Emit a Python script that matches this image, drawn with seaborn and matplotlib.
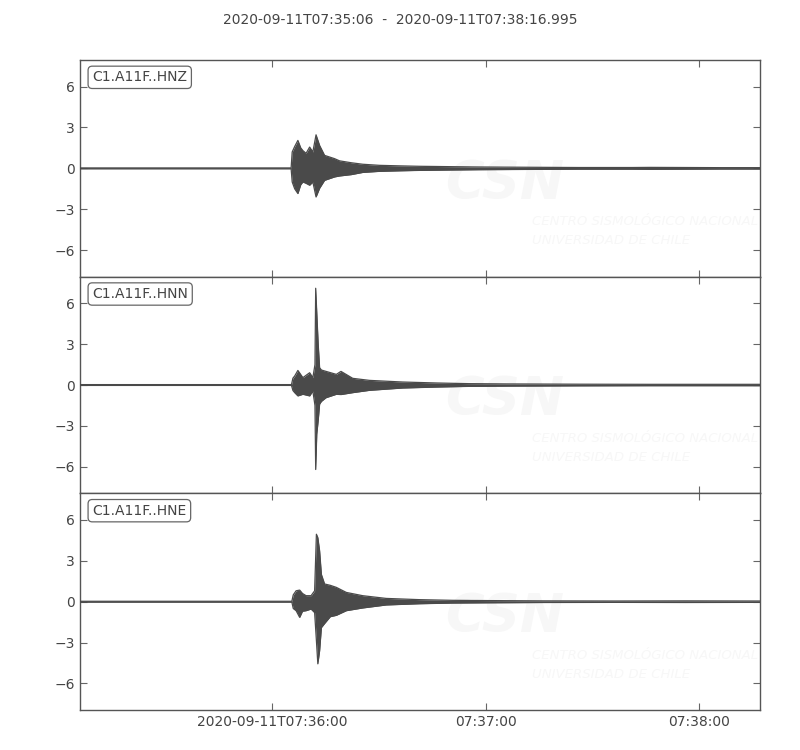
import numpy as np
import pandas as pd
import seaborn as sns
import matplotlib
matplotlib.use("Agg")
import matplotlib.pyplot as plt

# envelope of each trace
# time in seconds after 2020-09-11T07:35:06, amplitude in the plot units
channels = ["C1.A11F..HNZ", "C1.A11F..HNN", "C1.A11F..HNE"]

hnz_t = [0, 59.3, 59.6, 60.3, 61.2, 62.0, 62.6, 63.5, 64.5, 65.4, 66.3, 67.3, 68.7,
         71.5, 72.9, 76.2, 79.4, 84.1, 90, 95.3, 105, 112, 125, 140, 155, 160, 170, 180, 191]
hnz_up = [0.03, 0.03, 1.2, 1.6, 2.05, 1.5, 1.3, 1.1, 1.56, 1.2, 2.46, 1.68, 0.95,
          0.71, 0.55, 0.41, 0.3, 0.22, 0.18, 0.15, 0.12, 0.1, 0.08, 0.06, 0.06, 0.07, 0.06, 0.05, 0.05]
hnz_lo = [-0.03, -0.03, -1.0, -1.5, -1.85, -1.2, -1.0, -1.1, -1.24, -1.0, -2.1, -1.46, -0.88,
          -0.63, -0.56, -0.46, -0.3, -0.22, -0.18, -0.15, -0.12, -0.1, -0.08, -0.06, -0.06, -0.07, -0.06, -0.05, -0.05]

hnn_t = [0, 59.4, 59.8, 60.3, 61.2, 62.6, 64.5, 65.4, 66.0, 66.2, 66.5, 66.9, 67.3,
         67.8, 69.1, 72, 73.3, 76.6, 81.3, 90.6, 100, 109, 120, 140, 160, 191]
hnn_up = [0.03, 0.03, 0.5, 0.66, 1.07, 0.54, 0.9, 0.54, 1.5, 7.1, 5.3, 3.0, 1.27,
          1.1, 1.0, 0.78, 1.0, 0.49, 0.34, 0.22, 0.15, 0.1, 0.08, 0.06, 0.05, 0.05]
hnn_lo = [-0.03, -0.03, -0.4, -0.56, -0.8, -0.68, -0.8, -0.44, -1.5, -6.2, -3.6, -2.6, -1.4,
          -1.2, -0.93, -0.68, -0.7, -0.56, -0.39, -0.22, -0.15, -0.1, -0.08, -0.06, -0.05, -0.05]

hne_t = [0, 59.5, 59.9, 60.7, 61.7, 62.5, 63.5, 64.9, 65.9, 66.4, 66.8, 67.3, 67.8,
         68.7, 70.3, 72, 74.8, 79.4, 86, 95.3, 104.6, 115, 130, 150, 170, 191]
hne_up = [0.03, 0.03, 0.5, 0.8, 0.85, 0.6, 0.44, 0.44, 0.8, 4.95, 4.7, 3.73, 2.0,
          1.3, 1.2, 1.05, 0.68, 0.44, 0.24, 0.15, 0.1, 0.08, 0.06, 0.05, 0.06, 0.05]
hne_lo = [-0.03, -0.03, -0.5, -0.66, -1.15, -0.7, -0.66, -0.54, -0.8, -2.85, -4.56, -3.6, -1.9,
          -1.6, -1.1, -1.0, -0.66, -0.46, -0.24, -0.15, -0.1, -0.08, -0.06, -0.05, -0.06, -0.05]

tick_pos = [54, 114, 174]
tick_labels = ["2020-09-11T07:36:00", "07:37:00", "07:38:00"]
y_ticks = [-6, -3, 0, 3, 6]
title = "2020-09-11T07:35:06  -  2020-09-11T07:38:16.995"

traces = [(hnz_t, hnz_up, hnz_lo), (hnn_t, hnn_up, hnn_lo), (hne_t, hne_up, hne_lo)]

sns.set_style("white")
plt.rcParams["font.family"] = ["DejaVu Sans"]
plt.rcParams["font.size"] = 10

ink = "#4a4a4a"
txt = "#444444"
wm = "#f7f7f7"

fig, axes = plt.subplots(3, 1, figsize=(8, 7.5), dpi=100, sharex=True)
fig.subplots_adjust(left=0.1, right=0.95, top=0.92, bottom=0.0533, hspace=0)

for ax, name, (t, up, lo) in zip(axes, channels, traces):
    df = pd.DataFrame({"t": t, "up": up, "lo": lo})
    # faint CSN watermark
    ax.text(0.625, 0.43, "CSN", transform=ax.transAxes, fontsize=38, fontweight="bold",
            style="italic", color=wm, ha="center", va="center", zorder=0, clip_on=True)
    ax.text(0.665, 0.21, "CENTRO SISMOLÓGICO NACIONAL\nUNIVERSIDAD DE CHILE",
            transform=ax.transAxes, fontsize=9.5, style="italic", color=wm,
            ha="left", va="center", zorder=0, linespacing=1.6, clip_on=True)
    ax.fill_between(df["t"], df["lo"], df["up"], color=ink, lw=0, zorder=2)
    sns.lineplot(data=df, x="t", y="up", ax=ax, color=ink, lw=0.9, estimator=None, zorder=3)
    sns.lineplot(data=df, x="t", y="lo", ax=ax, color=ink, lw=0.9, estimator=None, zorder=3)
    ax.set_xlim(0, 190.995)
    ax.set_ylim(-7.95, 7.95)
    ax.set_yticks(y_ticks)
    ax.set_xlabel("")
    ax.set_ylabel("")
    ax.tick_params(direction="in", top=True, right=True, bottom=True, left=True,
                   length=5, width=0.8, colors="#666666", labelcolor=txt, labelsize=10)
    for s in ax.spines.values():
        s.set_color("#555555")
        s.set_linewidth(1.0)
    ax.text(0.018, 0.92, name, transform=ax.transAxes, ha="left", va="center",
            fontsize=10, color=txt, zorder=5,
            bbox=dict(boxstyle="round,pad=0.3", fc="white", ec="#666666", lw=0.9))

axes[-1].set_xticks(tick_pos)
axes[-1].set_xticklabels(tick_labels)
fig.suptitle(title, y=0.982, fontsize=10, color=txt)

fig.savefig("out.png", dpi=100)
